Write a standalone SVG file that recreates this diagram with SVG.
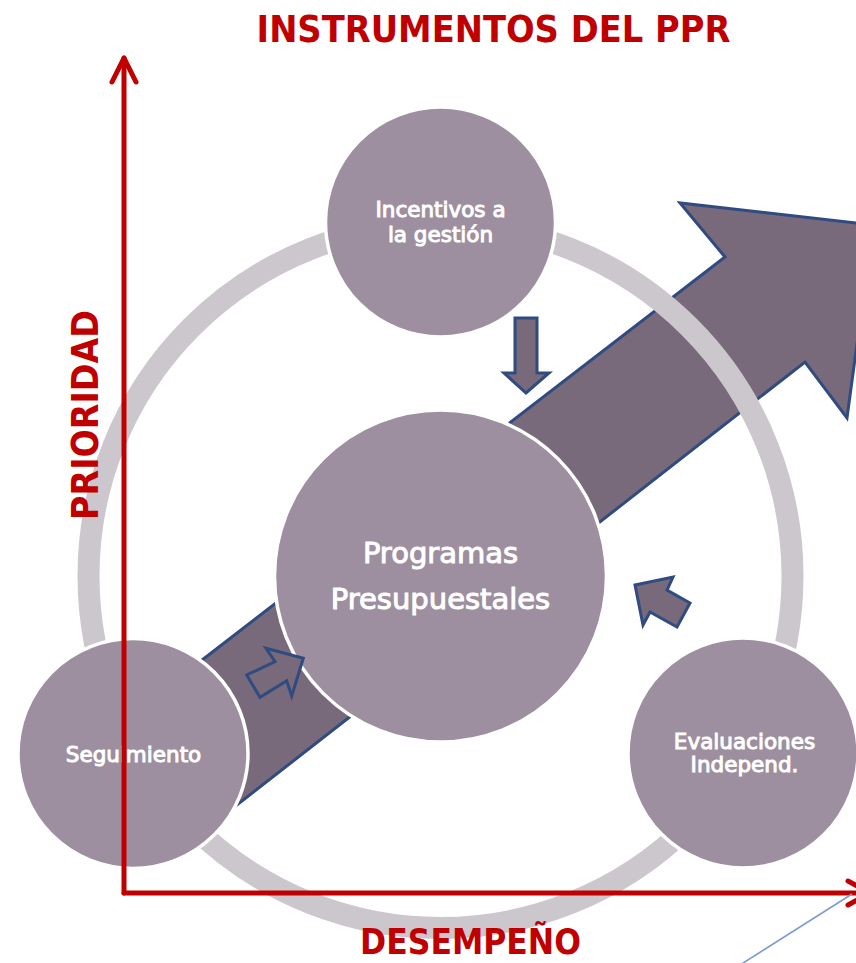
<svg xmlns="http://www.w3.org/2000/svg" width="856" height="963" viewBox="0 0 856 963">
<defs>
<style>
.node{fill:#9d8f9f;stroke:#ffffff;stroke-width:3.5}
.arr{fill:#786a7b;stroke:#2f4b80;stroke-width:3;stroke-linejoin:miter}
.lbl{font-family:"DejaVu Sans","Liberation Sans",sans-serif;fill:#ffffff;stroke:#ffffff;stroke-width:1;text-anchor:middle}
.head{font-family:"DejaVu Sans Condensed","DejaVu Sans","Liberation Sans",sans-serif;font-stretch:condensed;font-weight:bold;fill:#c00000;text-anchor:middle}
.axis{fill:none;stroke:#c00000;stroke-width:5;stroke-linecap:round;stroke-linejoin:round}
</style>
</defs>
<rect width="856" height="963" fill="#ffffff"/>
<g id="big-arrow">
<path class="arr" d="M180,677 L725,257 L680,203 L873,225 L847,418 L805,362 L215,822 Z"/>
</g>
<g id="cycle-ring">
<circle cx="440.5" cy="576" r="352" fill="none" stroke="#ccc7cd" stroke-width="22"/>
</g>
<g id="node-incentivos">
<circle class="node" cx="440.5" cy="222" r="115"/>
<text class="lbl" x="440.5" y="217" font-size="21.5">Incentivos a</text>
<text class="lbl" x="440.5" y="242" font-size="21.5">la gestión</text>
</g>
<g id="node-seguimiento">
<circle class="node" cx="133" cy="753.5" r="115"/>
<text class="lbl" x="133.5" y="762" font-size="21.5">Seguimiento</text>
</g>
<g id="node-evaluaciones">
<circle class="node" cx="743" cy="753" r="115"/>
<text class="lbl" x="744.5" y="749" font-size="21.5">Evaluaciones</text>
<text class="lbl" x="744.5" y="772" font-size="21.5">Independ.</text>
</g>
<g id="node-programas">
<circle class="node" cx="440.5" cy="576" r="166"/>
<text class="lbl" x="440.5" y="563" font-size="29">Programas</text>
<text class="lbl" x="440.5" y="609" font-size="29">Presupuestales</text>
</g>
<g id="connectors">
<path class="arr" d="M515,318 L537,318 L537,373 L549,373 L526,393 L504,373 L515,373 Z"/>
<path class="arr" d="M635,585 L673,577 L667,590 L690,603 L677,627 L650,612 L643,625 Z"/>
<path class="arr" d="M303.3,658.3 L266,648.3 L275,661.7 L246.7,675 L260,697.3 L286.7,680.7 L291.7,696 Z"/>
</g>
<g id="axes">
<path class="axis" d="M124,893 L124,58"/>
<path class="axis" d="M112,82 L124,58 L136,82"/>
<path class="axis" d="M124,893 L870,893"/>
<path class="axis" d="M848,881 L870,893 L848,905"/>
<line x1="740" y1="965" x2="852" y2="894" stroke="#7f9bd0" stroke-width="1.6"/>
</g>
<g id="titles">
<text class="head" x="470.5" y="954" font-size="35">DESEMPEÑO</text>
<text class="head" x="493.5" y="42" font-size="37.5">INSTRUMENTOS DEL PPR</text>
<text class="head" transform="translate(98,415) rotate(-90)" font-size="37">PRIORIDAD</text>
</g>
</svg>
